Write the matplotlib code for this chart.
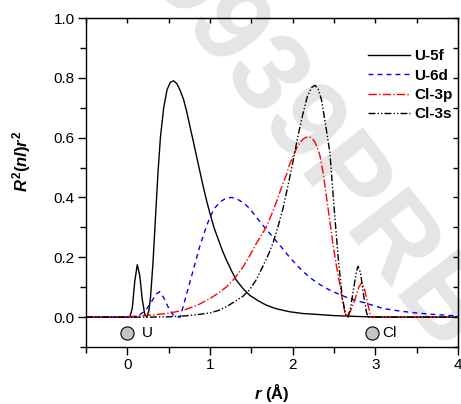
import numpy as np
import matplotlib
matplotlib.use("Agg")
import matplotlib.pyplot as plt
from matplotlib.ticker import MultipleLocator

plt.rcParams['font.family'] = ['Liberation Sans', 'DejaVu Sans']
plt.rcParams['mathtext.fontset'] = 'custom'
plt.rcParams['mathtext.it'] = 'Liberation Sans:bold:italic'
plt.rcParams['mathtext.rm'] = 'Liberation Sans:bold'
plt.rcParams['mathtext.bf'] = 'Liberation Sans:bold'

# --- data ---
r_5f = [-0.5, 0.0, 0.03, 0.06, 0.09, 0.12, 0.15, 0.18, 0.21, 0.235, 0.26, 0.28,
        0.31, 0.34, 0.37, 0.40, 0.44, 0.48, 0.52, 0.56, 0.60, 0.64, 0.68, 0.72, 0.76,
        0.80, 0.84, 0.88, 0.92, 0.96, 1.00, 1.05, 1.10, 1.15, 1.20, 1.26, 1.32,
        1.40, 1.48, 1.58, 1.68, 1.80, 1.96, 2.12, 2.29, 2.50, 2.69, 2.90, 3.20, 4.0]
u_5f = [0.0, 0.0, 0.0, 0.03, 0.12, 0.175, 0.14, 0.06, 0.01, 0.0, 0.02, 0.065,
        0.18, 0.33, 0.48, 0.60, 0.70, 0.76, 0.785, 0.79, 0.78, 0.757, 0.728, 0.685, 0.634,
        0.585, 0.534, 0.484, 0.434, 0.388, 0.346, 0.298, 0.260, 0.222, 0.190, 0.155, 0.123,
        0.095, 0.073, 0.055, 0.040, 0.028, 0.018, 0.012, 0.009, 0.005, 0.003, 0.001, 0.0, 0.0]

r_6d = [-0.5, 0.0, 0.10, 0.16, 0.22, 0.28, 0.34, 0.39, 0.44, 0.50, 0.55, 0.60, 0.64,
        0.70, 0.76, 0.82, 0.88, 0.94, 1.00, 1.06, 1.12, 1.20, 1.26, 1.32, 1.40,
        1.48, 1.56, 1.66, 1.76, 1.86, 1.96, 2.08, 2.20, 2.32, 2.45, 2.57, 2.69,
        2.80, 2.89, 3.00, 3.09, 3.30, 3.49, 3.70, 4.0]
u_6d = [0.0, 0.0, 0.0, 0.01, 0.022, 0.045, 0.075, 0.085, 0.065, 0.03, 0.008, 0.0, 0.0,
        0.06, 0.12, 0.18, 0.24, 0.29, 0.335, 0.365, 0.385, 0.398, 0.40, 0.396, 0.383,
        0.363, 0.334, 0.30, 0.268, 0.235, 0.201, 0.165, 0.134, 0.110, 0.090, 0.075, 0.062,
        0.053, 0.046, 0.037, 0.029, 0.020, 0.014, 0.009, 0.004]

r_3p = [-0.5, 0.0, 0.3, 0.5, 0.68, 0.85, 1.0, 1.1, 1.2, 1.3, 1.4, 1.48, 1.56, 1.62,
        1.68, 1.74, 1.80, 1.86, 1.92, 1.96, 2.0, 2.06, 2.12, 2.16, 2.20, 2.24, 2.27,
        2.30, 2.33, 2.37, 2.41, 2.45, 2.49, 2.53, 2.57, 2.60, 2.63, 2.65, 2.70, 2.75,
        2.80, 2.835, 2.865, 2.89, 2.92, 2.945, 3.0, 4.0]
cl_3p = [0.0, 0.001, 0.007, 0.013, 0.023, 0.040, 0.062, 0.080, 0.101, 0.130, 0.168, 0.205, 0.246, 0.273,
         0.301, 0.340, 0.382, 0.430, 0.472, 0.508, 0.535, 0.572, 0.594, 0.601, 0.603, 0.596, 0.585,
         0.565, 0.54, 0.48, 0.40, 0.32, 0.24, 0.17, 0.11, 0.06, 0.018, 0.0, 0.02, 0.057,
         0.10, 0.115, 0.098, 0.068, 0.03, 0.0, 0.0, 0.0]

r_3s = [-0.5, 0.3, 0.5, 0.7, 0.9, 1.0, 1.1, 1.2, 1.3, 1.4, 1.48, 1.56, 1.64, 1.70,
        1.76, 1.82, 1.88, 1.94, 2.0, 2.06, 2.12, 2.18, 2.23, 2.27, 2.31, 2.35, 2.40,
        2.45, 2.50, 2.55, 2.60, 2.64, 2.67, 2.70, 2.74, 2.77, 2.79, 2.82, 2.86, 2.89,
        2.91, 4.0]
cl_3s = [0.0, 0.0, 0.001, 0.004, 0.010, 0.014, 0.022, 0.035, 0.052, 0.070, 0.092, 0.125, 0.170, 0.205,
         0.246, 0.300, 0.360, 0.435, 0.515, 0.600, 0.675, 0.740, 0.768, 0.775, 0.762, 0.725, 0.64,
         0.55, 0.37, 0.20, 0.065, 0.01, 0.0, 0.03, 0.10, 0.15, 0.17, 0.15, 0.07, 0.02,
         0.0, 0.0]

atom_r = [0.0, 2.955]
atom_names = ['U', 'Cl']

fig = plt.figure(figsize=(4.61, 4.04), dpi=100)
ax = fig.add_axes([86 / 461, 1 - 347 / 404, 372 / 461, 329 / 404])
ax.set_facecolor('none')

# watermark behind the axes
fig.text(0.683, 0.632, '9939PRB', rotation=-52, fontsize=80, fontweight='bold',
         color='#e5e5e5', ha='center', va='center', zorder=-5)

lw = 1.0
ax.plot(r_5f, u_5f, color='black', lw=lw, label='U-5f')
ax.plot(r_6d, u_6d, color='#0000ff', lw=lw, dashes=(3.5, 3.0), label='U-6d')
ax.plot(r_3p, cl_3p, color='#ff0000', lw=lw, dashes=(6, 1.6, 1, 1.6), label='Cl-3p')
ax.plot(r_3s, cl_3s, color='black', lw=lw, dashes=(5, 1.5, 1, 1.5, 1, 1.5), label='Cl-3s')

ax.plot(atom_r, [-0.052] * 2, 'o', ms=9.5, mfc='#c4c4c4', mec='black', mew=0.8,
        clip_on=False)
ax.text(atom_r[0] + 0.17, -0.052, atom_names[0], fontsize=11, va='center')
ax.text(atom_r[1] + 0.13, -0.052, atom_names[1], fontsize=11, va='center')

ax.set_xlim(-0.5, 4)
ax.set_ylim(-0.1, 1.0)
ax.xaxis.set_major_locator(MultipleLocator(1))
ax.xaxis.set_minor_locator(MultipleLocator(0.5))
ax.yaxis.set_major_locator(MultipleLocator(0.2))
ax.yaxis.set_minor_locator(MultipleLocator(0.1))
ax.tick_params(which='major', direction='out', length=6, width=1.0, labelsize=11, pad=2)
ax.tick_params(which='minor', direction='out', length=4, width=1.0)
ax.set_yticks([0.0, 0.2, 0.4, 0.6, 0.8, 1.0])
ax.set_yticklabels(['0.0', '0.2', '0.4', '0.6', '0.8', '1.0'])
for s in ax.spines.values():
    s.set_linewidth(1.0)

top = ax.secondary_xaxis('top')
top.set_xticks(np.arange(-0.5, 4.01, 0.5))
top.tick_params(direction='in', length=3.5, width=1.0, labeltop=False)
right = ax.secondary_yaxis('right')
right.set_yticks(np.arange(-0.1, 1.001, 0.1))
right.tick_params(direction='in', length=3.5, width=1.0, labelright=False)

ax.set_ylabel('$R^2(nl)r^2$', fontsize=12)
ax.yaxis.set_label_coords(-0.142, 0.565)
ax.set_xlabel('$r$ (Å)', fontsize=12, fontweight='bold', labelpad=7)

leg = ax.legend(loc='upper left', bbox_to_anchor=(0.757, 0.905), frameon=False,
                prop={'weight': 'bold', 'size': 11}, handlelength=2.75,
                handletextpad=0.3, labelspacing=0.35, borderpad=0, borderaxespad=0)

fig.savefig('out.png', dpi=100)
